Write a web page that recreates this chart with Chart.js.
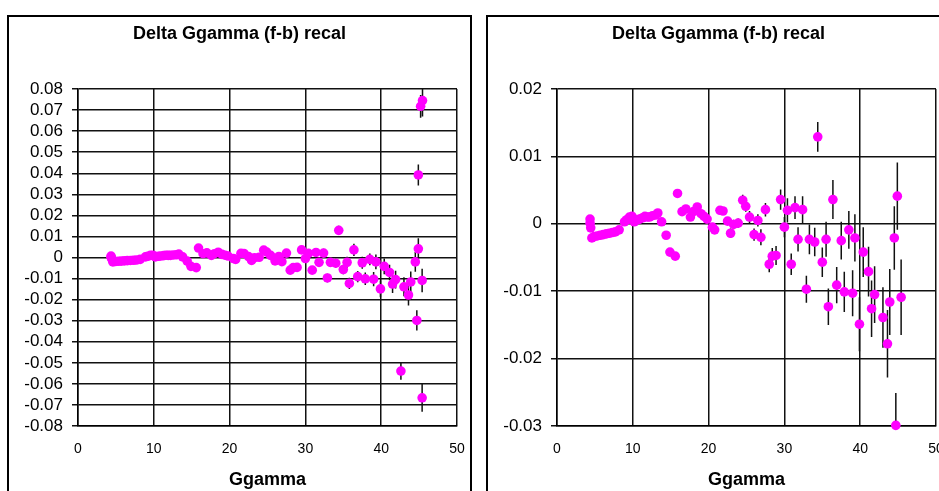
<!DOCTYPE html>
<html>
<head>
<meta charset="utf-8">
<title>Delta Ggamma (f-b) recal</title>
<script src="https://cdn.jsdelivr.net/npm/chart.js@4.4.1/dist/chart.umd.min.js"></script>
<style>
  html, body { margin: 0; padding: 0; background: #fff; overflow: hidden; }
  .frame { position: absolute; top: 15px; width: 461px; height: 500px; border: 2px solid #000; background: #fff; }
  .frame canvas { display: block; }
</style>
</head>
<body>
<div class="frame" style="left: 7px"><canvas id="fullchart" width="461" height="500"></canvas></div>
<div class="frame" style="left: 486px"><canvas id="zoomchart" width="461" height="500"></canvas></div>
<script>
// Ggamma bins, forward-backward difference and its error
const ggamma = [
  4.36, 4.36, 4.45, 4.6, 4.9, 5.3, 5.7, 6.1, 6.5, 6.9,
  7.3, 7.7, 8.2, 8.9, 9.2, 9.56, 9.9, 10.2, 10.6, 10.9,
  11.3, 11.6, 11.9, 12.2, 12.6, 13.0, 13.3, 13.8, 14.4, 14.9,
  15.6, 15.9, 16.5, 17.0, 17.6, 18.0, 18.5, 19.0, 19.4, 19.8,
  20.5, 20.8, 21.5, 21.9, 22.5, 22.9, 23.3, 23.9, 24.5, 24.9,
  25.4, 26.0, 26.5, 26.9, 27.5, 28.0, 28.4, 28.9, 29.5, 30.0,
  30.4, 30.9, 31.4, 31.8, 32.4, 32.9, 33.3, 34.0, 34.4, 35.0,
  35.5, 35.8, 36.4, 36.9, 37.5, 37.9, 38.5, 39.0, 39.3, 39.9,
  40.4, 41.1, 41.5, 41.9, 42.6, 43.0, 43.6, 43.9, 44.5, 44.7,
  44.9, 44.9, 45.2, 45.45, 45.4, 45.4
]
const deltaFB = [
  0.0007, 0.0001, -0.0006, -0.0021, -0.0019, -0.0018, -0.0017, -0.0016, -0.0015, -0.0014,
  -0.0013, -0.0012, -0.0009, 0.0003, 0.0006, 0.001, 0.0011, 0.0003, 0.0006, 0.0007,
  0.0009, 0.0011, 0.001, 0.001, 0.0012, 0.0013, 0.0016, 0.0003, -0.0017, -0.0042,
  -0.0048, 0.0045, 0.0018, 0.0022, 0.001, 0.0018, 0.0025, 0.0015, 0.0011, 0.0007,
  -0.0005, -0.0009, 0.002, 0.0019, 0.0004, -0.0014, -0.0001, 0.0001, 0.0035, 0.0026,
  0.001, -0.0016, 0.0005, -0.002, 0.0021, -0.006, -0.0048, -0.0047, 0.0036, -0.0005,
  0.002, -0.006, 0.0024, -0.0023, 0.0021, -0.0097, -0.0023, -0.0027, 0.0129, -0.0057,
  -0.0023, -0.0123, 0.0036, -0.0091, -0.0025, -0.0101, -0.0009, -0.0103, -0.0021, -0.0149,
  -0.0042, -0.0071, -0.0126, -0.0105, -0.0539, -0.0139, -0.0178, -0.0116, -0.0021, -0.0299,
  0.0392, 0.0041, 0.0718, 0.0745, -0.0109, -0.0666
]
const deltaErr = [
  0.0003, 0.0003, 0.0003, 0.0003, 0.0003, 0.0003, 0.0003, 0.0003, 0.0003, 0.0003,
  0.0003, 0.0003, 0.0003, 0.0003, 0.0003, 0.0003, 0.0003, 0.0003, 0.0003, 0.0003,
  0.0003, 0.0003, 0.0003, 0.0004, 0.0004, 0.0004, 0.0004, 0.0004, 0.0004, 0.0005,
  0.0005, 0.0005, 0.0005, 0.0005, 0.0005, 0.0005, 0.0005, 0.0005, 0.0005, 0.0005,
  0.0006, 0.0006, 0.0006, 0.0006, 0.0006, 0.0007, 0.0007, 0.0007, 0.0008, 0.0008,
  0.0009, 0.0009, 0.0009, 0.0012, 0.001, 0.0012, 0.0012, 0.0014, 0.0015, 0.0015,
  0.0018, 0.0016, 0.0017, 0.0018, 0.002, 0.002, 0.0022, 0.0021, 0.0022, 0.0022,
  0.0026, 0.0027, 0.0029, 0.0027, 0.0028, 0.003, 0.0028, 0.0034, 0.0035, 0.004,
  0.0037, 0.0037, 0.0042, 0.0042, 0.0042, 0.0045, 0.005, 0.0049, 0.0047, 0.0048,
  0.005, 0.005, 0.0054, 0.0075, 0.0056, 0.0066
]

const xTicks = [0, 10, 20, 30, 40, 50]
const fullTicks = [0.08, 0.07, 0.06, 0.05, 0.04, 0.03, 0.02, 0.01, 0,
  -0.01, -0.02, -0.03, -0.04, -0.05, -0.06, -0.07, -0.08]
const zoomTicks = [0.02, 0.01, 0, -0.01, -0.02, -0.03]

const FONT = "'Liberation Sans', Arial, sans-serif"

// vertical error bars, drawn under the markers
const errorBars = {
  id: 'errorBars',
  beforeDatasetsDraw(chart) {
    const { ctx, chartArea, scales: { x, y } } = chart
    ctx.save()
    ctx.beginPath()
    ctx.rect(chartArea.left, chartArea.top, chartArea.width, chartArea.height)
    ctx.clip()
    ctx.strokeStyle = '#111'
    ctx.lineWidth = 1.5
    ctx.beginPath()
    ggamma.forEach((g, i) => {
      const px = x.getPixelForValue(g)
      ctx.moveTo(px, y.getPixelForValue(deltaFB[i] - deltaErr[i]))
      ctx.lineTo(px, y.getPixelForValue(deltaFB[i] + deltaErr[i]))
    })
    ctx.stroke()
    ctx.restore()
  }
}

function fmtTick(v) {
  if (Math.abs(v) < 1e-9) return '0'
  return v.toFixed(2)
}

function makeChart(id, yTicks) {
  const ctx = document.getElementById(id).getContext('2d')
  return new Chart(ctx, {
    type: 'scatter',
    data: {
      datasets: [{
        data: ggamma.map((g, i) => ({ x: g, y: deltaFB[i] })),
        backgroundColor: '#ff00ff',
        borderWidth: 0,
        pointRadius: 4.8,
        clip: 6
      }]
    },
    options: {
      responsive: false,
      animation: false,
      layout: { padding: 0 },
      plugins: {
        legend: { display: false },
        tooltip: { enabled: false },
        title: {
          display: true,
          text: 'Delta Ggamma (f-b) recal',
          color: '#000',
          font: { family: FONT, size: 18, weight: 'bold' },
          padding: { top: 6, bottom: 44.4 }
        }
      },
      scales: {
        x: {
          type: 'linear',
          min: 0,
          max: 50,
          afterBuildTicks: scale => { scale.ticks = xTicks.map(v => ({ value: v })) },
          afterFit: scale => {
            // keep the plot area clear of the frame on the right
            scale.height = 91
            scale.paddingLeft = 0
            scale.paddingRight = 13
          },
          grid: { color: '#111', lineWidth: 1.5, drawTicks: false },
          border: { color: '#000', width: 1.5 },
          ticks: { color: '#000', font: { family: FONT, size: 14 }, padding: 15, maxRotation: 0, autoSkip: false },
          title: {
            display: true,
            text: 'Ggamma',
            color: '#000',
            font: { family: FONT, size: 18, weight: 'bold' },
            padding: { top: 0, bottom: 26.5 }
          }
        },
        y: {
          type: 'linear',
          min: yTicks[yTicks.length - 1],
          max: yTicks[0],
          afterBuildTicks: scale => { scale.ticks = yTicks.map(v => ({ value: v })) },
          afterFit: scale => { scale.width = 69 },
          grid: { color: '#111', lineWidth: 1.5, drawTicks: true, tickLength: 6 },
          border: { color: '#000', width: 1.5 },
          ticks: { color: '#000', font: { family: FONT, size: 17 }, padding: 9, autoSkip: false, callback: fmtTick }
        }
      }
    },
    plugins: [errorBars]
  })
}

makeChart('fullchart', fullTicks)
makeChart('zoomchart', zoomTicks)
</script>
</body>
</html>
